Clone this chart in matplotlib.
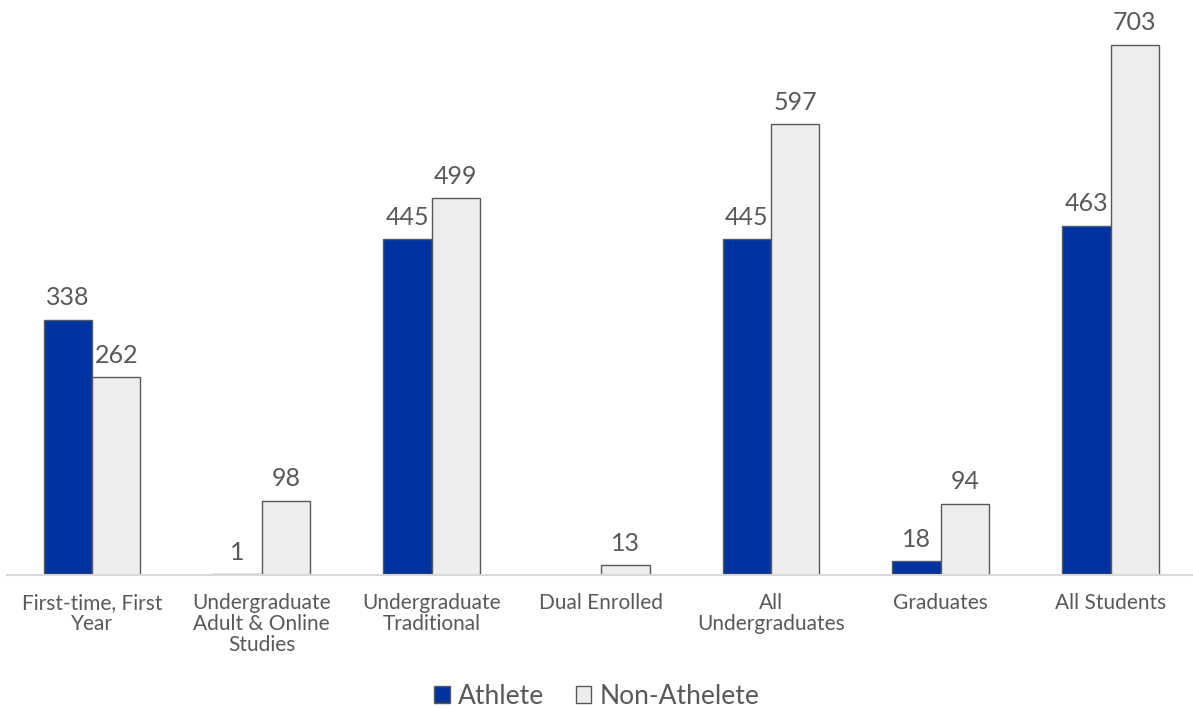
import numpy as np
import matplotlib.pyplot as plt

# ---- Data ----
categories = ["First-time, First\nYear", "Undergraduate\nAdult & Online\nStudies",
              "Undergraduate\nTraditional", "Dual Enrolled", "All\nUndergraduates",
              "Graduates", "All Students"]
athlete = [338, 1, 445, None, 445, 18, 463]
non_athlete = [262, 98, 499, 13, 597, 94, 703]

blue = '#0033A0'
light = '#EDEDED'
edge = '#595959'
txt = '#595959'

plt.rcParams['font.family'] = ['Lato', 'DejaVu Sans']

fig = plt.figure(figsize=(11.93, 7.08), dpi=100)
ax = fig.add_axes([0.006, 0.188, 0.996, 0.812])

x = np.arange(len(categories))
w = 0.285
a_vals = [v if v is not None else 0 for v in athlete]
b1 = ax.bar(x - w/2, a_vals, w, color=blue, edgecolor=edge, linewidth=1, label='Athlete')
b2 = ax.bar(x + w/2, non_athlete, w, color=light, edgecolor=edge, linewidth=1, label='Non-Athelete')
# hide the empty athlete bar
for rect, v in zip(b1, athlete):
    if v is None:
        rect.set_visible(False)

# ---- Value labels ----
for rect, v in zip(b1, athlete):
    if v is not None:
        ax.text(rect.get_x() + rect.get_width()/2, v + 14, str(v), ha='center', va='bottom',
                fontsize=18, color=txt)
for rect, v in zip(b2, non_athlete):
    ax.text(rect.get_x() + rect.get_width()/2, v + 14, str(v), ha='center', va='bottom',
            fontsize=18, color=txt)

ax.set_xlim(-0.5, len(categories) - 0.5)
ax.set_ylim(0, 762)
ax.set_yticks([])
ax.set_xticks(x)
ax.set_xticklabels(categories, fontsize=15, color=txt, linespacing=1.05)
ax.tick_params(axis='x', length=0, pad=13)
for s in ['top', 'right', 'left']:
    ax.spines[s].set_visible(False)
ax.spines['bottom'].set_color('#D9D9D9')
ax.spines['bottom'].set_linewidth(1.5)

fig.legend(loc='lower center', bbox_to_anchor=(0.5, -0.035), ncol=2, frameon=False,
           fontsize=19, labelcolor=txt, handlelength=0.6, handleheight=0.6,
           handletextpad=0.3, columnspacing=1.2)

plt.savefig("out.png", dpi=100)
